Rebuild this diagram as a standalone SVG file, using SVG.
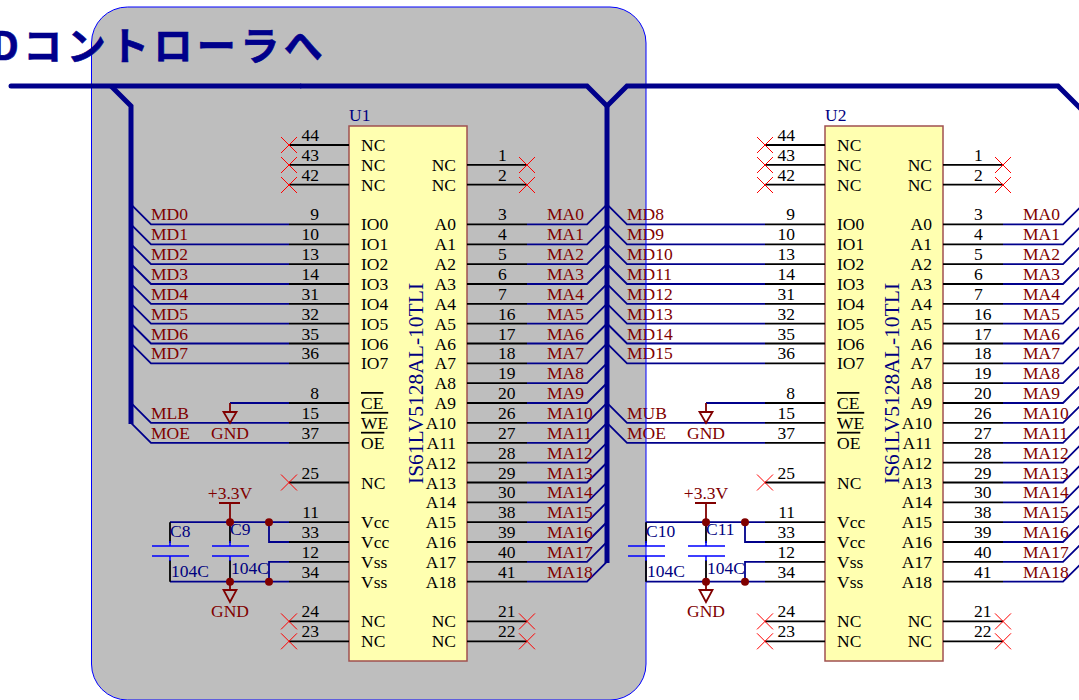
<svg xmlns="http://www.w3.org/2000/svg" width="1079" height="700" viewBox="0 0 1079 700">
<style>
text{font-family:"Liberation Serif","Times New Roman",serif;font-size:17.5px}
.t{font-family:"Noto Sans CJK JP","Noto Sans",sans-serif;font-size:39px;font-weight:700;fill:#00008b;stroke:#00008b;stroke-width:.6px;letter-spacing:4.4px}
.bus{fill:none;stroke:#00008b;stroke-width:5}
.w{fill:none;stroke:#00008b;stroke-width:1.8}
.p{fill:none;stroke:#000;stroke-width:1.8}
.x{fill:none;stroke:#ff0000;stroke-width:1}
.box{fill:#ffffb0;stroke:#a05050;stroke-width:1.5}
.cap{fill:none;stroke:#0000ff;stroke-width:1.5}
.r{fill:none;stroke:#800000;stroke-width:1.8}
.j{fill:#800000}
.n{fill:#000;text-anchor:end}
.m{fill:#000}
.e{fill:#000;text-anchor:end}
.l{fill:#800000}
.c{fill:#800000;text-anchor:middle}
.b{fill:#000080}
.v{fill:#000080;font-size:21.5px}
.o{text-decoration:overline}
</style>
<rect x="91.5" y="7" width="554.5" height="693" rx="36" ry="36" fill="#bebebe"/>
<g id="connectors">
<g id="wires-u1">
<path class="w" d="M289 224.4H151L131 204.4M289 244.3H151L131 224.3M289 264.1H151L131 244.1M289 284H151L131 264M289 303.8H151L131 283.8M289 323.7H151L131 303.7M289 343.5H151L131 323.5M289 363.4H151L131 343.4M289 422.9H151L131 402.9M289 442.8H151L131 422.8"/>
<path class="w" d="M527 224.4H587L607 204.4M527 244.3H587L607 224.3M527 264.1H587L607 244.1M527 284H587L607 264M527 303.8H587L607 283.8M527 323.7H587L607 303.7M527 343.5H587L607 323.5M527 363.4H587L607 343.4M527 383.2H587L607 363.2M527 403H587L607 383M527 422.9H587L607 402.9M527 442.8H587L607 422.8M527 462.6H587L607 442.6M527 482.5H587L607 462.5M527 502.3H587L607 482.3M527 522.2H587L607 502.2M527 542H587L607 522M527 561.9H587L607 541.9M527 581.7H587L607 561.7"/>
<path class="w" d="M289 403H230M170 522.2H289M269 522.2V542H289M289 561.9H269V581.7M170 581.7H289"/>
</g>
<g id="wires-u2" transform="translate(476 0)">
<path class="w" d="M289 224.4H151L131 204.4M289 244.3H151L131 224.3M289 264.1H151L131 244.1M289 284H151L131 264M289 303.8H151L131 283.8M289 323.7H151L131 303.7M289 343.5H151L131 323.5M289 363.4H151L131 343.4M289 422.9H151L131 402.9M289 442.8H151L131 422.8"/>
<path class="w" d="M527 224.4H587L607 204.4M527 244.3H587L607 224.3M527 264.1H587L607 244.1M527 284H587L607 264M527 303.8H587L607 283.8M527 323.7H587L607 303.7M527 343.5H587L607 323.5M527 363.4H587L607 343.4M527 383.2H587L607 363.2M527 403H587L607 383M527 422.9H587L607 402.9M527 442.8H587L607 422.8M527 462.6H587L607 442.6M527 482.5H587L607 462.5M527 502.3H587L607 482.3M527 522.2H587L607 502.2M527 542H587L607 522M527 561.9H587L607 541.9M527 581.7H587L607 561.7"/>
<path class="w" d="M289 403H230M170 522.2H289M269 522.2V542H289M289 561.9H269V581.7M170 581.7H289"/>
</g>
</g>
<g id="U1">
<rect class="box" x="349" y="126" width="118" height="535"/>
<path class="p" d="M289 145H349M289 164.9H349M289 184.7H349M289 224.4H349M289 244.3H349M289 264.1H349M289 284H349M289 303.8H349M289 323.7H349M289 343.5H349M289 363.4H349M289 403H349M289 422.9H349M289 442.8H349M289 482.5H349M289 522.2H349M289 542H349M289 561.9H349M289 581.7H349M289 621.4H349M289 641.3H349"/>
<path class="p" d="M467 164.9H527M467 184.7H527M467 224.4H527M467 244.3H527M467 264.1H527M467 284H527M467 303.8H527M467 323.7H527M467 343.5H527M467 363.4H527M467 383.2H527M467 403H527M467 422.9H527M467 442.8H527M467 462.6H527M467 482.5H527M467 502.3H527M467 522.2H527M467 542H527M467 561.9H527M467 581.7H527M467 621.4H527M467 641.3H527"/>
<path class="x" d="M281 137L297 153M297 137L281 153M281 157L297 173M297 157L281 173M281 177L297 193M297 177L281 193M281 474.5L297 490.5M297 474.5L281 490.5M281 613.4L297 629.4M297 613.4L281 629.4M281 633.3L297 649.3M297 633.3L281 649.3M519 157L535 173M535 157L519 173M519 177L535 193M535 177L519 193M519 613.4L535 629.4M535 613.4L519 629.4M519 633.3L535 649.3M535 633.3L519 649.3"/>
<text class="b" x="349" y="121">U1</text>
<text class="v" transform="translate(423 484) rotate(-90)">IS61LV5128AL-10TLI</text>
<text class="n" x="319" y="141">44</text><text class="n" x="319" y="161">43</text><text class="n" x="319" y="181">42</text>
<text class="n" x="319" y="220.4">9</text><text class="n" x="319" y="240.3">10</text><text class="n" x="319" y="260.1">13</text><text class="n" x="319" y="280">14</text><text class="n" x="319" y="299.8">31</text><text class="n" x="319" y="319.7">32</text><text class="n" x="319" y="339.5">35</text><text class="n" x="319" y="359.4">36</text>
<text class="n" x="319" y="399">8</text><text class="n" x="319" y="418.9">15</text><text class="n" x="319" y="438.8">37</text><text class="n" x="319" y="478.5">25</text>
<text class="n" x="319" y="518.2">11</text><text class="n" x="319" y="538">33</text><text class="n" x="319" y="557.9">12</text><text class="n" x="319" y="577.7">34</text><text class="n" x="319" y="617.4">24</text><text class="n" x="319" y="637.3">23</text>
<text class="m" x="361" y="151">NC</text><text class="m" x="361" y="170.9">NC</text><text class="m" x="361" y="190.7">NC</text>
<text class="m" x="361" y="230.4">IO0</text><text class="m" x="361" y="250.3">IO1</text><text class="m" x="361" y="270.1">IO2</text><text class="m" x="361" y="290">IO3</text><text class="m" x="361" y="309.8">IO4</text><text class="m" x="361" y="329.7">IO5</text><text class="m" x="361" y="349.5">IO6</text><text class="m" x="361" y="369.4">IO7</text>
<text class="m o" x="361" y="409">CE</text><text class="m o" x="361" y="428.9">WE</text><text class="m o" x="361" y="448.8">OE</text><text class="m" x="361" y="488.5">NC</text>
<text class="m" x="361" y="528.2">Vcc</text><text class="m" x="361" y="548">Vcc</text><text class="m" x="361" y="567.9">Vss</text><text class="m" x="361" y="587.7">Vss</text><text class="m" x="361" y="627.4">NC</text><text class="m" x="361" y="647.3">NC</text>
<text class="e" x="456" y="170.9">NC</text><text class="e" x="456" y="190.7">NC</text>
<text class="e" x="456" y="230.4">A0</text><text class="e" x="456" y="250.3">A1</text><text class="e" x="456" y="270.1">A2</text><text class="e" x="456" y="290">A3</text><text class="e" x="456" y="309.8">A4</text><text class="e" x="456" y="329.7">A5</text><text class="e" x="456" y="349.5">A6</text><text class="e" x="456" y="369.4">A7</text><text class="e" x="456" y="389.2">A8</text><text class="e" x="456" y="409">A9</text><text class="e" x="456" y="428.9">A10</text><text class="e" x="456" y="448.8">A11</text><text class="e" x="456" y="468.6">A12</text><text class="e" x="456" y="488.5">A13</text><text class="e" x="456" y="508.3">A14</text><text class="e" x="456" y="528.2">A15</text><text class="e" x="456" y="548">A16</text><text class="e" x="456" y="567.9">A17</text><text class="e" x="456" y="587.7">A18</text><text class="e" x="456" y="627.4">NC</text><text class="e" x="456" y="647.3">NC</text>
<text class="m" x="498" y="161">1</text><text class="m" x="498" y="181">2</text><text class="m" x="498" y="220.4">3</text><text class="m" x="498" y="240.3">4</text><text class="m" x="498" y="260.1">5</text><text class="m" x="498" y="280">6</text><text class="m" x="498" y="299.8">7</text><text class="m" x="498" y="319.7">16</text><text class="m" x="498" y="339.5">17</text><text class="m" x="498" y="359.4">18</text><text class="m" x="498" y="379.2">19</text><text class="m" x="498" y="399">20</text><text class="m" x="498" y="418.9">26</text><text class="m" x="498" y="438.8">27</text><text class="m" x="498" y="458.6">28</text><text class="m" x="498" y="478.5">29</text><text class="m" x="498" y="498.3">30</text><text class="m" x="498" y="518.2">38</text><text class="m" x="498" y="538">39</text><text class="m" x="498" y="557.9">40</text><text class="m" x="498" y="577.7">41</text><text class="m" x="498" y="617.4">21</text><text class="m" x="498" y="637.3">22</text>
<text class="l" x="151" y="220.4">MD0</text><text class="l" x="151" y="240.3">MD1</text><text class="l" x="151" y="260.1">MD2</text><text class="l" x="151" y="280">MD3</text><text class="l" x="151" y="299.8">MD4</text><text class="l" x="151" y="319.7">MD5</text><text class="l" x="151" y="339.5">MD6</text><text class="l" x="151" y="359.4">MD7</text><text class="l" x="151" y="418.9">MLB</text><text class="l" x="151" y="438.8">MOE</text>
<text class="l" x="547" y="220.4">MA0</text><text class="l" x="547" y="240.3">MA1</text><text class="l" x="547" y="260.1">MA2</text><text class="l" x="547" y="280">MA3</text><text class="l" x="547" y="299.8">MA4</text><text class="l" x="547" y="319.7">MA5</text><text class="l" x="547" y="339.5">MA6</text><text class="l" x="547" y="359.4">MA7</text><text class="l" x="547" y="379.2">MA8</text><text class="l" x="547" y="399">MA9</text><text class="l" x="547" y="418.9">MA10</text><text class="l" x="547" y="438.8">MA11</text><text class="l" x="547" y="458.6">MA12</text><text class="l" x="547" y="478.5">MA13</text><text class="l" x="547" y="498.3">MA14</text><text class="l" x="547" y="518.2">MA15</text><text class="l" x="547" y="538">MA16</text><text class="l" x="547" y="557.9">MA17</text><text class="l" x="547" y="577.7">MA18</text>
</g>
<g id="U1-power">
<path class="r" d="M230 403V412M223.5 412H236.5L230 423ZM219 503H240M230 503V522M230 582V590M223.5 590H236.5L230 602Z"/>
<path class="p" d="M170 522.2V543M170 560V581.7M230 522.2V543M230 560V581.7"/>
<path class="cap" d="M152 546H189M152 556H189M170 541V546M170 556V561M212 546H249M212 556H249M230 541V546M230 556V561"/>
<circle class="j" cx="230" cy="522.2" r="4"/><circle class="j" cx="269" cy="522.2" r="4"/><circle class="j" cx="230" cy="581.7" r="4"/><circle class="j" cx="269" cy="581.7" r="4"/>
<text class="c" x="230" y="439">GND</text><text class="c" x="230" y="498.5">+3.3V</text><text class="c" x="230" y="617">GND</text>
<text class="b" x="170" y="537">C8</text><text class="b" x="230" y="535">C9</text><text class="b" x="171" y="577">104C</text><text class="b" x="231" y="574">104C</text>
</g>
<g id="U2" transform="translate(476 0)">
<rect class="box" x="349" y="126" width="118" height="535"/>
<path class="p" d="M289 145H349M289 164.9H349M289 184.7H349M289 224.4H349M289 244.3H349M289 264.1H349M289 284H349M289 303.8H349M289 323.7H349M289 343.5H349M289 363.4H349M289 403H349M289 422.9H349M289 442.8H349M289 482.5H349M289 522.2H349M289 542H349M289 561.9H349M289 581.7H349M289 621.4H349M289 641.3H349"/>
<path class="p" d="M467 164.9H527M467 184.7H527M467 224.4H527M467 244.3H527M467 264.1H527M467 284H527M467 303.8H527M467 323.7H527M467 343.5H527M467 363.4H527M467 383.2H527M467 403H527M467 422.9H527M467 442.8H527M467 462.6H527M467 482.5H527M467 502.3H527M467 522.2H527M467 542H527M467 561.9H527M467 581.7H527M467 621.4H527M467 641.3H527"/>
<path class="x" d="M281 137L297 153M297 137L281 153M281 157L297 173M297 157L281 173M281 177L297 193M297 177L281 193M281 474.5L297 490.5M297 474.5L281 490.5M281 613.4L297 629.4M297 613.4L281 629.4M281 633.3L297 649.3M297 633.3L281 649.3M519 157L535 173M535 157L519 173M519 177L535 193M535 177L519 193M519 613.4L535 629.4M535 613.4L519 629.4M519 633.3L535 649.3M535 633.3L519 649.3"/>
<text class="b" x="349" y="121">U2</text>
<text class="v" transform="translate(423 484) rotate(-90)">IS61LV5128AL-10TLI</text>
<text class="n" x="319" y="141">44</text><text class="n" x="319" y="161">43</text><text class="n" x="319" y="181">42</text>
<text class="n" x="319" y="220.4">9</text><text class="n" x="319" y="240.3">10</text><text class="n" x="319" y="260.1">13</text><text class="n" x="319" y="280">14</text><text class="n" x="319" y="299.8">31</text><text class="n" x="319" y="319.7">32</text><text class="n" x="319" y="339.5">35</text><text class="n" x="319" y="359.4">36</text>
<text class="n" x="319" y="399">8</text><text class="n" x="319" y="418.9">15</text><text class="n" x="319" y="438.8">37</text><text class="n" x="319" y="478.5">25</text>
<text class="n" x="319" y="518.2">11</text><text class="n" x="319" y="538">33</text><text class="n" x="319" y="557.9">12</text><text class="n" x="319" y="577.7">34</text><text class="n" x="319" y="617.4">24</text><text class="n" x="319" y="637.3">23</text>
<text class="m" x="361" y="151">NC</text><text class="m" x="361" y="170.9">NC</text><text class="m" x="361" y="190.7">NC</text>
<text class="m" x="361" y="230.4">IO0</text><text class="m" x="361" y="250.3">IO1</text><text class="m" x="361" y="270.1">IO2</text><text class="m" x="361" y="290">IO3</text><text class="m" x="361" y="309.8">IO4</text><text class="m" x="361" y="329.7">IO5</text><text class="m" x="361" y="349.5">IO6</text><text class="m" x="361" y="369.4">IO7</text>
<text class="m o" x="361" y="409">CE</text><text class="m o" x="361" y="428.9">WE</text><text class="m o" x="361" y="448.8">OE</text><text class="m" x="361" y="488.5">NC</text>
<text class="m" x="361" y="528.2">Vcc</text><text class="m" x="361" y="548">Vcc</text><text class="m" x="361" y="567.9">Vss</text><text class="m" x="361" y="587.7">Vss</text><text class="m" x="361" y="627.4">NC</text><text class="m" x="361" y="647.3">NC</text>
<text class="e" x="456" y="170.9">NC</text><text class="e" x="456" y="190.7">NC</text>
<text class="e" x="456" y="230.4">A0</text><text class="e" x="456" y="250.3">A1</text><text class="e" x="456" y="270.1">A2</text><text class="e" x="456" y="290">A3</text><text class="e" x="456" y="309.8">A4</text><text class="e" x="456" y="329.7">A5</text><text class="e" x="456" y="349.5">A6</text><text class="e" x="456" y="369.4">A7</text><text class="e" x="456" y="389.2">A8</text><text class="e" x="456" y="409">A9</text><text class="e" x="456" y="428.9">A10</text><text class="e" x="456" y="448.8">A11</text><text class="e" x="456" y="468.6">A12</text><text class="e" x="456" y="488.5">A13</text><text class="e" x="456" y="508.3">A14</text><text class="e" x="456" y="528.2">A15</text><text class="e" x="456" y="548">A16</text><text class="e" x="456" y="567.9">A17</text><text class="e" x="456" y="587.7">A18</text><text class="e" x="456" y="627.4">NC</text><text class="e" x="456" y="647.3">NC</text>
<text class="m" x="498" y="161">1</text><text class="m" x="498" y="181">2</text><text class="m" x="498" y="220.4">3</text><text class="m" x="498" y="240.3">4</text><text class="m" x="498" y="260.1">5</text><text class="m" x="498" y="280">6</text><text class="m" x="498" y="299.8">7</text><text class="m" x="498" y="319.7">16</text><text class="m" x="498" y="339.5">17</text><text class="m" x="498" y="359.4">18</text><text class="m" x="498" y="379.2">19</text><text class="m" x="498" y="399">20</text><text class="m" x="498" y="418.9">26</text><text class="m" x="498" y="438.8">27</text><text class="m" x="498" y="458.6">28</text><text class="m" x="498" y="478.5">29</text><text class="m" x="498" y="498.3">30</text><text class="m" x="498" y="518.2">38</text><text class="m" x="498" y="538">39</text><text class="m" x="498" y="557.9">40</text><text class="m" x="498" y="577.7">41</text><text class="m" x="498" y="617.4">21</text><text class="m" x="498" y="637.3">22</text>
<text class="l" x="151" y="220.4">MD8</text><text class="l" x="151" y="240.3">MD9</text><text class="l" x="151" y="260.1">MD10</text><text class="l" x="151" y="280">MD11</text><text class="l" x="151" y="299.8">MD12</text><text class="l" x="151" y="319.7">MD13</text><text class="l" x="151" y="339.5">MD14</text><text class="l" x="151" y="359.4">MD15</text><text class="l" x="151" y="418.9">MUB</text><text class="l" x="151" y="438.8">MOE</text>
<text class="l" x="547" y="220.4">MA0</text><text class="l" x="547" y="240.3">MA1</text><text class="l" x="547" y="260.1">MA2</text><text class="l" x="547" y="280">MA3</text><text class="l" x="547" y="299.8">MA4</text><text class="l" x="547" y="319.7">MA5</text><text class="l" x="547" y="339.5">MA6</text><text class="l" x="547" y="359.4">MA7</text><text class="l" x="547" y="379.2">MA8</text><text class="l" x="547" y="399">MA9</text><text class="l" x="547" y="418.9">MA10</text><text class="l" x="547" y="438.8">MA11</text><text class="l" x="547" y="458.6">MA12</text><text class="l" x="547" y="478.5">MA13</text><text class="l" x="547" y="498.3">MA14</text><text class="l" x="547" y="518.2">MA15</text><text class="l" x="547" y="538">MA16</text><text class="l" x="547" y="557.9">MA17</text><text class="l" x="547" y="577.7">MA18</text>
</g>
<rect id="panel-outline" x="91.5" y="7" width="554.5" height="693" rx="36" ry="36" fill="none" stroke="#0000ff" stroke-width="1"/>
<g id="U2-power" transform="translate(476 0)">
<path class="r" d="M230 403V412M223.5 412H236.5L230 423ZM219 503H240M230 503V522M230 582V590M223.5 590H236.5L230 602Z"/>
<path class="p" d="M170 522.2V543M170 560V581.7M230 522.2V543M230 560V581.7"/>
<path class="cap" d="M152 546H189M152 556H189M170 541V546M170 556V561M212 546H249M212 556H249M230 541V546M230 556V561"/>
<circle class="j" cx="230" cy="522.2" r="4"/><circle class="j" cx="269" cy="522.2" r="4"/><circle class="j" cx="230" cy="581.7" r="4"/><circle class="j" cx="269" cy="581.7" r="4"/>
<text class="c" x="230" y="439">GND</text><text class="c" x="230" y="498.5">+3.3V</text><text class="c" x="230" y="617">GND</text>
<text class="b" x="170" y="537">C10</text><text class="b" x="230" y="535">C11</text><text class="b" x="171" y="577">104C</text><text class="b" x="231" y="574">104C</text>
</g>
<g id="bus-connectors">
<path class="bus" d="M11 86H300" stroke-linecap="round"/>
<path class="bus" d="M300 86H587L607 106L627 86H1058L1083 111"/>
<path class="bus" d="M111 86L131 106V424M607 106V563"/>
</g>
<text class="t" x="-9" y="60">Dコントローラへ</text>
</svg>
